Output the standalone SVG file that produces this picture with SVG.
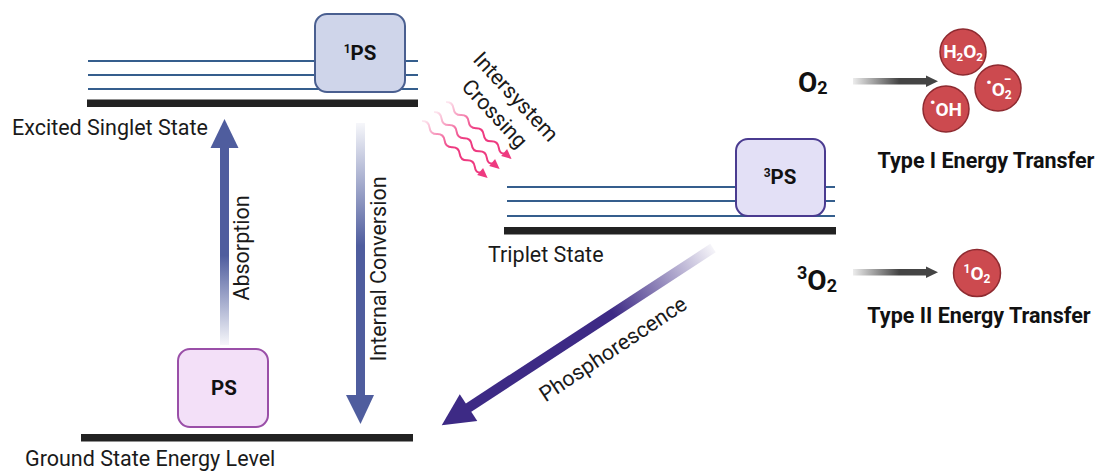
<svg xmlns="http://www.w3.org/2000/svg" width="1099" height="472" viewBox="0 0 1099 472">
<style>
.lbl{font-family:Roboto,"Liberation Sans",sans-serif;font-size:21.5px;fill:#1a1a1a}
.bold{font-family:Roboto,"Liberation Sans",sans-serif;font-weight:bold;fill:#111}
.ctxt{font-family:Roboto,"Liberation Sans",sans-serif;font-weight:bold;fill:#fff;font-size:19px}
.lvl{stroke:#355e8d;stroke-width:2}
.bar{fill:#222}
.mol{fill:#cc4a4f;stroke:#8e2a30;stroke-width:1.5}
</style>
<defs>
<linearGradient id="gAbs" x1="0" y1="146" x2="0" y2="345" gradientUnits="userSpaceOnUse">
<stop offset="0" stop-color="#4f5d9e"/><stop offset="0.55" stop-color="#4f5d9e"/><stop offset="1" stop-color="#4f5d9e" stop-opacity="0.05"/>
</linearGradient>
<linearGradient id="gIC" x1="0" y1="123" x2="0" y2="396" gradientUnits="userSpaceOnUse">
<stop offset="0" stop-color="#4f5d9e" stop-opacity="0.05"/><stop offset="0.45" stop-color="#4f5d9e"/><stop offset="1" stop-color="#4f5d9e"/>
</linearGradient>
<linearGradient id="gPh" x1="0" y1="0" x2="300" y2="0" gradientUnits="userSpaceOnUse">
<stop offset="0" stop-color="#3d2a85" stop-opacity="0.05"/><stop offset="0.4" stop-color="#3d2a85"/><stop offset="1" stop-color="#3d2a85"/>
</linearGradient>
<linearGradient id="gGray" x1="853" y1="0" x2="930" y2="0" gradientUnits="userSpaceOnUse">
<stop offset="0" stop-color="#444" stop-opacity="0.1"/><stop offset="0.6" stop-color="#444"/><stop offset="1" stop-color="#444"/>
</linearGradient>
<linearGradient id="gWave" x1="0" y1="0" x2="80" y2="0" gradientUnits="userSpaceOnUse">
<stop offset="0" stop-color="#ee3a80" stop-opacity="0.1"/><stop offset="0.5" stop-color="#ee3a80"/><stop offset="1" stop-color="#ee3a80"/>
</linearGradient>
<g id="wave">
<path d="M0,0 q5,-4.5 10,0 t10,0 t10,0 t10,0 t10,0 t10,0 t10,0 t8,0" fill="none" stroke="url(#gWave)" stroke-width="2"/>
<polygon points="87,0 77,-4.5 77,4.5" fill="#ee3a80"/>
</g>
</defs>

<g id="singlet-level">
<line class="lvl" x1="88" y1="61" x2="418" y2="61"/>
<line class="lvl" x1="88" y1="75" x2="418" y2="75"/>
<line class="lvl" x1="88" y1="89" x2="418" y2="89"/>
<rect class="bar" x="87" y="99.5" width="331" height="7.5"/>
<text class="lbl" x="12" y="135">Excited Singlet State</text>
</g>

<g id="node-1PS">
<rect x="315" y="14" width="90" height="78" rx="12" fill="#cfd5ea" stroke="#4a5f90" stroke-width="2"/>
<text class="bold" x="360" y="60" font-size="20.5" text-anchor="middle"><tspan font-size="12" dy="-7">1</tspan><tspan dy="7">PS</tspan></text>
</g>

<g id="triplet-level">
<line class="lvl" x1="507" y1="187" x2="835" y2="187"/>
<line class="lvl" x1="507" y1="201" x2="835" y2="201"/>
<line class="lvl" x1="507" y1="216" x2="835" y2="216"/>
<rect class="bar" x="504" y="227" width="332" height="7.5"/>
<text class="lbl" x="488" y="262">Triplet State</text>
</g>

<g id="node-3PS">
<rect x="736" y="139" width="89" height="77" rx="12" fill="#e3e0f6" stroke="#4a3b90" stroke-width="2"/>
<text class="bold" x="780" y="184" font-size="20.5" text-anchor="middle"><tspan font-size="12" dy="-7">3</tspan><tspan dy="7">PS</tspan></text>
</g>

<g id="ground-level">
<rect class="bar" x="81" y="434" width="332" height="7.5"/>
<text class="lbl" x="25" y="466">Ground State Energy Level</text>
</g>

<g id="node-PS">
<rect x="178" y="349" width="90" height="78" rx="12" fill="#f3e0f8" stroke="#9a4fa8" stroke-width="2"/>
<text class="bold" x="224" y="395" font-size="20.5" text-anchor="middle">PS</text>
</g>

<g id="connectors">
<g id="absorption">
<rect x="220" y="146" width="9" height="199" fill="url(#gAbs)"/>
<polygon points="224.5,119 238.5,148 210.5,148" fill="#4f5d9e"/>
<text class="lbl" transform="translate(249,248) rotate(-90)" text-anchor="middle">Absorption</text>
</g>
<g id="internal-conversion">
<rect x="356" y="123" width="9" height="274" fill="url(#gIC)"/>
<polygon points="346,395 374,395 360.5,424" fill="#4f5d9e"/>
<text class="lbl" transform="translate(385.5,269) rotate(-90)" text-anchor="middle">Internal Conversion</text>
</g>
<g id="isc">
<use href="#wave" transform="translate(446,102) rotate(41)"/>
<use href="#wave" transform="translate(434,112) rotate(41)"/>
<use href="#wave" transform="translate(422,121) rotate(41)"/>
<text class="lbl" transform="translate(510.5,101.6) rotate(47)" text-anchor="middle"><tspan x="0" y="0">Intersystem</tspan><tspan x="-2" y="27">Crossing</tspan></text>
</g>
<g id="phosphorescence">
<g transform="translate(713,248) rotate(146.85)">
<rect x="0" y="-5" width="296" height="10" fill="url(#gPh)"/>
<polygon points="324,0 292,-16 292,16" fill="#3d2a85"/>
</g>
<text class="lbl" transform="translate(617,355) rotate(-33.5)" text-anchor="middle">Phosphorescence</text>
</g>
<g id="type1-arrow">
<rect x="853" y="78" width="76" height="6.5" fill="url(#gGray)"/>
<polygon points="938,81.2 926,75.5 926,87" fill="#444"/>
</g>
<g id="type2-arrow">
<rect x="853" y="269" width="76" height="6.5" fill="url(#gGray)"/>
<polygon points="938,272.2 926,266.5 926,278" fill="#444"/>
</g>
</g>

<g id="o2">
<text class="bold" x="798" y="92" font-size="28">O<tspan font-size="18" dy="2">2</tspan></text>
</g>
<g id="type1-products">
<circle class="mol" cx="963" cy="52" r="23"/>
<text class="ctxt" x="963" y="58" text-anchor="middle" font-size="17.5">H<tspan font-size="11.5" dy="3">2</tspan><tspan dy="-3">O</tspan><tspan font-size="11.5" dy="3">2</tspan></text>
<circle class="mol" cx="998" cy="88" r="23"/>
<text class="ctxt" x="999" y="96" text-anchor="middle"><tspan dy="-8" font-size="15">•</tspan><tspan dy="8">O</tspan><tspan font-size="12" dy="3">2</tspan><tspan font-size="14" dx="-8" dy="-15">−</tspan></text>
<circle class="mol" cx="946" cy="109" r="23"/>
<text class="ctxt" x="946" y="116" text-anchor="middle"><tspan dy="-8" font-size="15">•</tspan><tspan dy="8">OH</tspan></text>
<text class="bold" x="986" y="168" font-size="21.5" text-anchor="middle">Type I Energy Transfer</text>
</g>

<g id="o2-triplet">
<text class="bold" x="797" y="290" font-size="28"><tspan font-size="18" dy="-11">3</tspan><tspan dy="11">O</tspan><tspan font-size="18" dy="2">2</tspan></text>
</g>
<g id="type2-products">
<circle class="mol" cx="977" cy="273" r="23.5"/>
<text class="ctxt" x="977" y="280" text-anchor="middle"><tspan font-size="12" dy="-7">1</tspan><tspan dy="7">O</tspan><tspan font-size="12" dy="3">2</tspan></text>
<text class="bold" x="979" y="323" font-size="21.5" text-anchor="middle">Type II Energy Transfer</text>
</g>
</svg>
